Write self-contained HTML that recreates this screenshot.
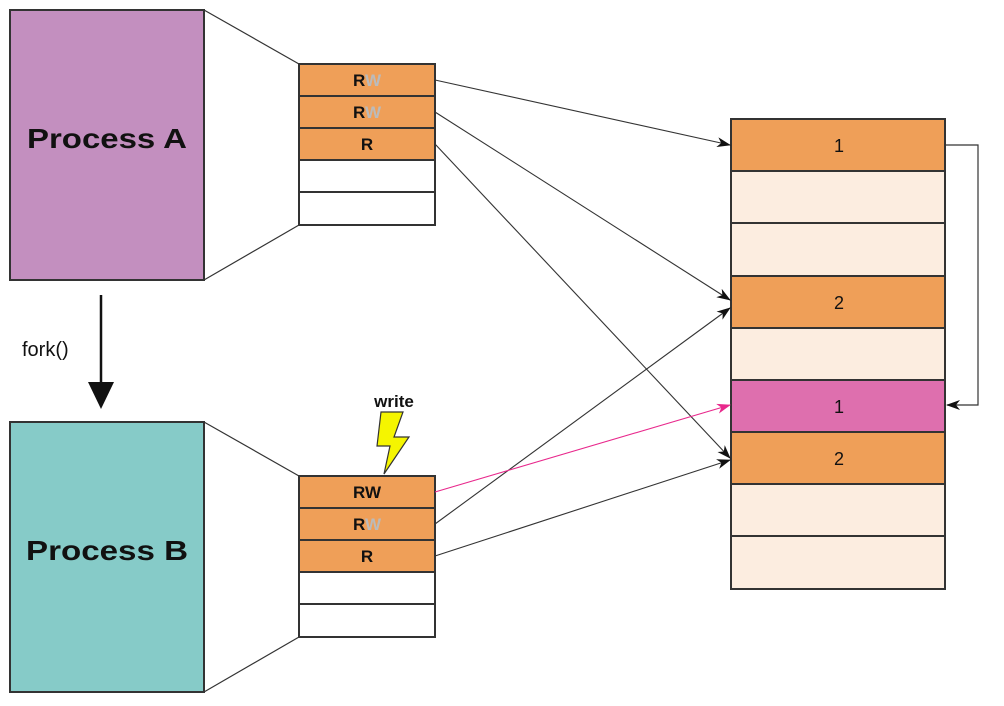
<!DOCTYPE html>
<html><head><meta charset="utf-8"><style>
html,body{margin:0;padding:0;background:#fff;}
svg{display:block;}
text{font-family:"Liberation Sans",sans-serif;font-weight:bold;fill:#111;}
text.n{font-weight:normal;}
</style></head><body>
<svg width="1004" height="706" viewBox="0 0 1004 706" xmlns="http://www.w3.org/2000/svg">
<defs>
<marker id="ah" markerWidth="14" markerHeight="10" refX="13" refY="5" orient="auto" markerUnits="userSpaceOnUse"><path d="M0,0 L14,5 L0,10 L4,5 z" fill="#111"/></marker>
<marker id="ahp" markerWidth="14" markerHeight="10" refX="13" refY="5" orient="auto" markerUnits="userSpaceOnUse"><path d="M0,0 L14,5 L0,10 L4,5 z" fill="#e8288c"/></marker>
</defs>
<rect x="10" y="10" width="194" height="270" fill="#c38fbf" stroke="#333" stroke-width="2"/>
<text x="107" y="148" font-size="28" text-anchor="middle" textLength="160" lengthAdjust="spacingAndGlyphs">Process A</text>
<rect x="10" y="422" width="194" height="270" fill="#86cbc8" stroke="#333" stroke-width="2"/>
<text x="107" y="560" font-size="28" text-anchor="middle" textLength="162" lengthAdjust="spacingAndGlyphs">Process B</text>
<g stroke="#333" stroke-width="1.2">
<line x1="204" y1="10" x2="299" y2="64"/><line x1="204" y1="280" x2="299" y2="225"/>
<line x1="204" y1="422" x2="299" y2="476"/><line x1="204" y1="692" x2="299" y2="637"/>
</g>
<line x1="101" y1="295" x2="101" y2="385" stroke="#111" stroke-width="2.5"/>
<path d="M88,382 L114,382 L101,409 z" fill="#111"/>
<text class="n" x="22" y="356" font-size="20">fork()</text>
<g stroke="#333" stroke-width="2">
<rect x="299" y="64" width="136" height="32" fill="#ef9f58"/>
<rect x="299" y="96" width="136" height="32" fill="#ef9f58"/>
<rect x="299" y="128" width="136" height="32" fill="#ef9f58"/>
<rect x="299" y="160" width="136" height="32" fill="#fff"/>
<rect x="299" y="192" width="136" height="33" fill="#fff"/>
<rect x="299" y="476" width="136" height="32" fill="#ef9f58"/>
<rect x="299" y="508" width="136" height="32" fill="#ef9f58"/>
<rect x="299" y="540" width="136" height="32" fill="#ef9f58"/>
<rect x="299" y="572" width="136" height="32" fill="#fff"/>
<rect x="299" y="604" width="136" height="33" fill="#fff"/>
</g>
<g font-size="17" text-anchor="middle">
<text x="367" y="86">R<tspan fill="#bbb">W</tspan></text>
<text x="367" y="118">R<tspan fill="#bbb">W</tspan></text>
<text x="367" y="150">R</text>
<text x="367" y="498">RW</text>
<text x="367" y="530">R<tspan fill="#bbb">W</tspan></text>
<text x="367" y="562">R</text>
</g>
<text x="394" y="407" font-size="17" text-anchor="middle">write</text>
<path d="M381,412 L403,412 L394,437 L409,437 L384,474 L390,446 L377,446 z" fill="#f5f500" stroke="#333" stroke-width="1.2"/>
<g stroke="#333" stroke-width="2">
<rect x="731" y="119" width="214" height="52" fill="#ef9f58"/>
<rect x="731" y="171" width="214" height="52" fill="#fcede0"/>
<rect x="731" y="223" width="214" height="53" fill="#fcede0"/>
<rect x="731" y="276" width="214" height="52" fill="#ef9f58"/>
<rect x="731" y="328" width="214" height="52" fill="#fcede0"/>
<rect x="731" y="380" width="214" height="52" fill="#de6fae"/>
<rect x="731" y="432" width="214" height="52" fill="#ef9f58"/>
<rect x="731" y="484" width="214" height="52" fill="#fcede0"/>
<rect x="731" y="536" width="214" height="53" fill="#fcede0"/>
</g>
<g font-size="18" text-anchor="middle">
<text class="n" x="839" y="152">1</text>
<text class="n" x="839" y="309">2</text>
<text class="n" x="839" y="413">1</text>
<text class="n" x="839" y="465">2</text>
</g>
<path d="M945,145 L978,145 L978,405 L947,405" fill="none" stroke="#333" stroke-width="1.2" marker-end="url(#ah)"/>
<g stroke="#333" stroke-width="1.1" fill="none" marker-end="url(#ah)">
<line x1="435" y1="80" x2="730" y2="145"/>
<line x1="435" y1="112" x2="730" y2="300"/>
<line x1="435" y1="144" x2="730" y2="458"/>
<line x1="435" y1="524" x2="730" y2="308"/>
<line x1="435" y1="556" x2="730" y2="460"/>
</g>
<line x1="435" y1="492" x2="730" y2="405" stroke="#e8288c" stroke-width="1.1" marker-end="url(#ahp)"/>
</svg>
</body></html>
